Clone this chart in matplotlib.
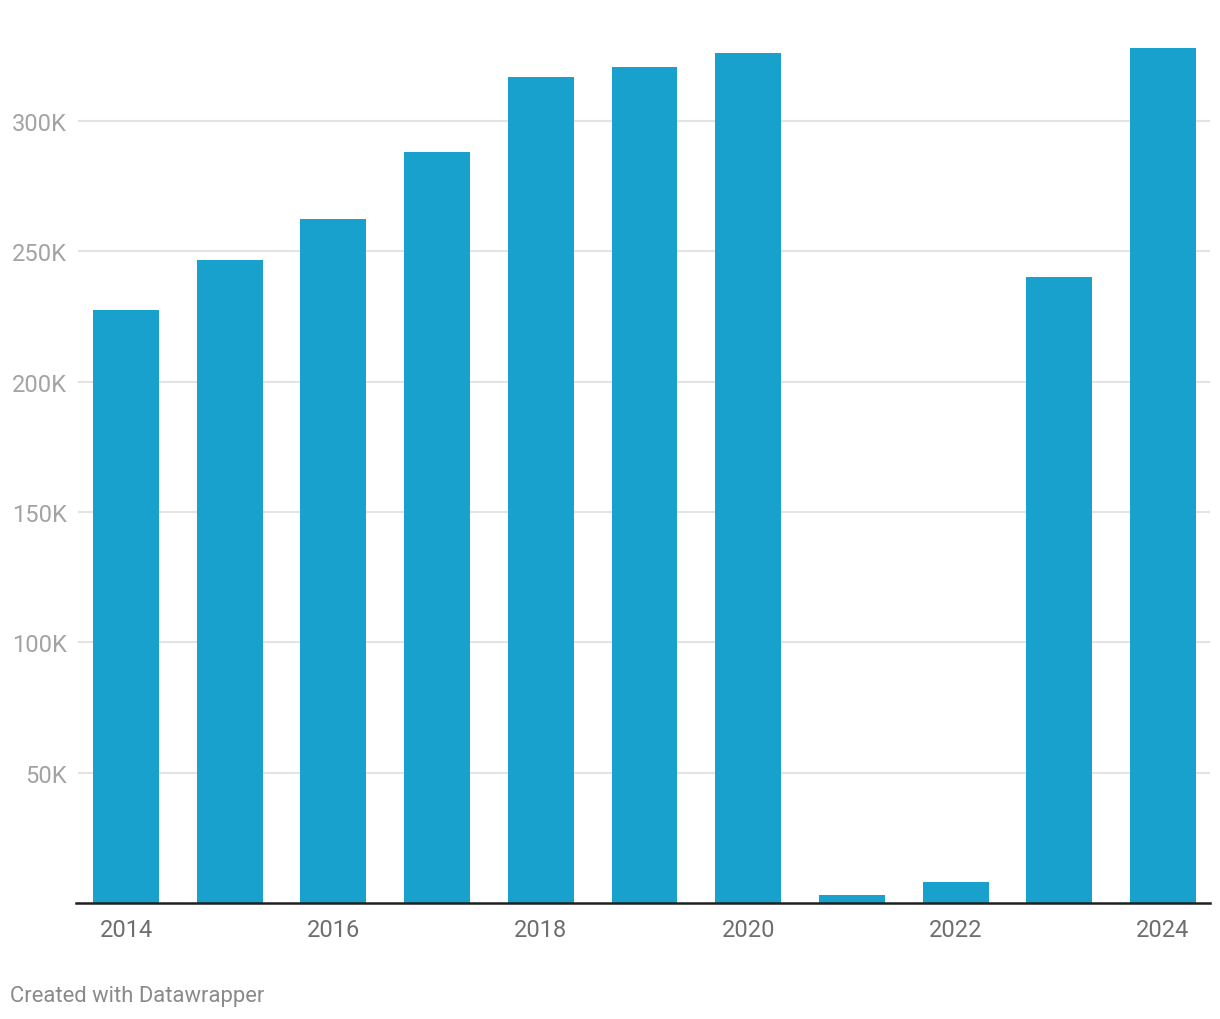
import matplotlib
matplotlib.use("Agg")
import matplotlib.pyplot as plt

years = [2014, 2015, 2016, 2017, 2018, 2019, 2020, 2021, 2022, 2023, 2024]
values = [227500, 246700, 262400, 288100, 316900, 320700, 326100, 3100, 8100, 240200, 328000]
yticks = [50000, 100000, 150000, 200000, 250000, 300000]
ytick_labels = ["50K", "100K", "150K", "200K", "250K", "300K"]
xtick_years = [2014, 2016, 2018, 2020, 2022, 2024]

plt.rcParams['font.family'] = ['Roboto', 'DejaVu Sans']

W, H = 1220, 1020
fig = plt.figure(figsize=(W / 100, H / 100), dpi=100)
ax = fig.add_axes([78 / W, 1 - 904 / H, (1210 - 78) / W, 904 / H])

x = list(range(len(years)))
ax.bar(x, values, width=0.636, color="#19a1cd", zorder=3)

ax.set_xlim(-0.463, 10.453)
ax.set_ylim(0, 904 * 300000 / 782)

ax.set_yticks(yticks)
ax.set_yticklabels(ytick_labels)
ax.yaxis.grid(True, color="#e3e3e3", linewidth=1.5, zorder=0)
ax.set_axisbelow(True)

ax.set_xticks([years.index(y) for y in xtick_years])
ax.set_xticklabels([str(y) for y in xtick_years])

ax.tick_params(axis="y", length=0, pad=8, labelsize=17, labelcolor="#a3a3a3")
ax.tick_params(axis="x", length=0, pad=11, labelsize=17, labelcolor="#6e6e6e")

for s in ["top", "right", "left"]:
    ax.spines[s].set_visible(False)
ax.spines["bottom"].set_color("#1f1f1f")
ax.spines["bottom"].set_linewidth(1.8)
ax.spines["bottom"].set_zorder(4)
ax.spines["bottom"].set_bounds(-0.48, 10.453)

fig.text(10 / W, 1 - 997 / H, "Created with Datawrapper", fontsize=15.8,
         color="#8a8a8a", ha="left", va="center")

fig.savefig("out.png", dpi=100, facecolor="white")
